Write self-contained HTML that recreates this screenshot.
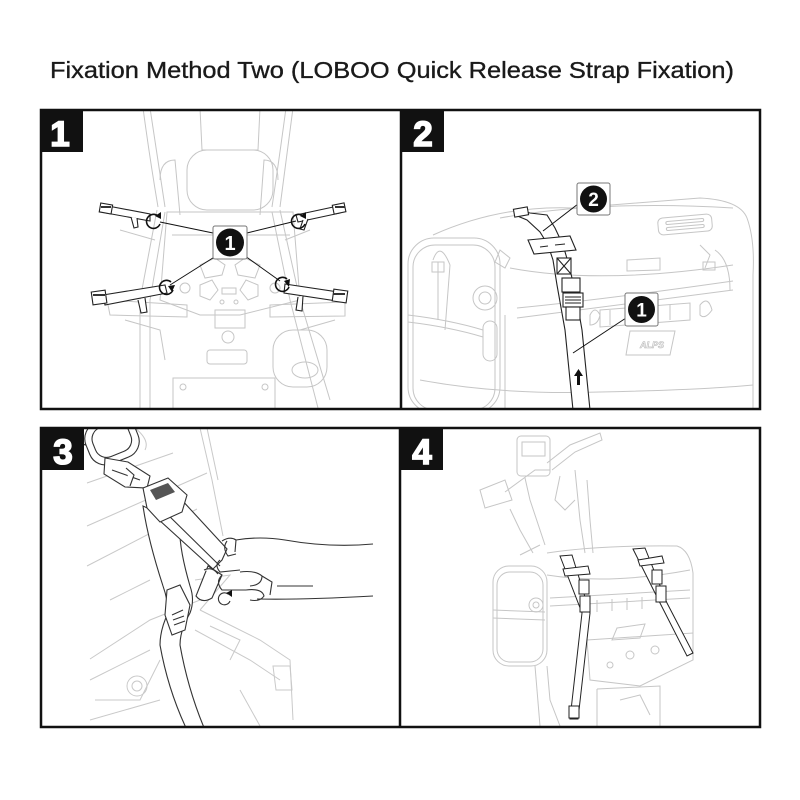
<!DOCTYPE html>
<html><head><meta charset="utf-8"><style>
html,body{margin:0;padding:0;background:#fff;}
svg{display:block;}
</style></head><body>
<svg width="800" height="800" viewBox="0 0 800 800" xmlns="http://www.w3.org/2000/svg">
<defs>
  <clipPath id="c1"><rect x="42" y="111" width="358" height="297"/></clipPath>
  <clipPath id="c2"><rect x="402" y="111" width="357" height="297"/></clipPath>
  <clipPath id="c3"><rect x="42" y="429" width="357" height="297"/></clipPath>
  <clipPath id="c4"><rect x="401" y="429" width="358" height="297"/></clipPath>
</defs>
<rect width="800" height="800" fill="#fff"/>
<text x="50" y="78" font-family="Liberation Sans, sans-serif" font-size="23" fill="#1a1a1a" stroke="#1a1a1a" stroke-width="0.35" textLength="684" lengthAdjust="spacingAndGlyphs">Fixation Method Two (LOBOO Quick Release Strap Fixation)</text>

<!-- ============ PANEL 1 ============ -->
<g clip-path="url(#c1)">
<g fill="none" stroke="#c6c6c6" stroke-width="1">
  <path d="M143 108 Q150 160 158 207"/>
  <path d="M150 108 Q158 160 165 207"/>
  <path d="M293 108 Q286 160 280 207"/>
  <path d="M286 108 Q279 160 272 207"/>
  <path d="M200 108 L202 150 L258 150 L260 108"/>
  <rect x="187" y="150" width="86" height="60" rx="20"/>
  <path d="M160 180 Q160 160 175 160 L180 215"/>
  <path d="M278 180 Q278 160 264 160 L260 215"/>
  <path d="M157 210 L140 300 L140 408"/>
  <path d="M165 212 L150 300 L150 408"/>
  <path d="M280 210 L300 300 L330 400"/>
  <path d="M272 212 L290 300 L318 408"/>
  <path d="M167 212 L293 212 L300 300 L240 315 L200 315 L160 300 Z"/>
  <path d="M172 235 L290 235"/>
  <path d="M200 265 L215 258 L225 265 L222 275 L205 278 Z"/>
  <path d="M260 265 L245 258 L235 265 L238 275 L255 278 Z"/>
  <path d="M200 285 L212 280 L218 290 L210 300 L200 296 Z"/>
  <path d="M258 285 L246 280 L240 290 L248 300 L258 296 Z"/>
  <circle cx="185" cy="288" r="5"/><circle cx="275" cy="288" r="5"/>
  <rect x="222" y="288" width="14" height="6"/>
  <circle cx="222" cy="302" r="2"/><circle cx="236" cy="302" r="2"/>
  <rect x="215" y="310" width="30" height="18"/>
  <path d="M107 300 L187 305 L187 317 L110 315 Z"/>
  <path d="M270 305 L345 302 L345 316 L270 317 Z"/>
  <circle cx="228" cy="337" r="6"/>
  <rect x="207" y="350" width="40" height="14" rx="3"/>
  <rect x="273" y="330" width="54" height="57" rx="20"/>
  <ellipse cx="305" cy="370" rx="13" ry="8"/>
  <rect x="173" y="378" width="102" height="32"/>
  <circle cx="183" cy="387" r="3"/><circle cx="265" cy="387" r="3"/>
  <path d="M120 230 L155 240"/><path d="M310 230 L285 240"/>
  <path d="M125 320 L160 330 L165 360"/><path d="M335 320 L300 330"/>
</g>
<g fill="#fff" stroke="#222" stroke-width="1.1">
  <path d="M108 206 L150 214 L150 221 L106 213 Z"/>
  <path d="M131 217 L134 228 L138 227 L137 218"/>
  <rect x="100" y="204" width="12" height="9" transform="rotate(10 106 208)"/>
  <path d="M296 215 L338 206 L340 213 L298 222 Z"/>
  <path d="M303 220 L300 229 L304 230 L308 219"/>
  <rect x="333" y="204" width="12" height="9" transform="rotate(-12 339 208)"/>
  <path d="M103 295 L165 285 L167 293 L105 305 Z"/>
  <path d="M138 300 L141 313 L147 312 L145 298"/>
  <rect x="92" y="291" width="14" height="13" transform="rotate(-8 99 297)"/>
  <path d="M285 284 L338 292 L337 301 L284 293 Z"/>
  <path d="M298 297 L296 310 L302 311 L303 296"/>
  <rect x="333" y="290" width="14" height="12" transform="rotate(8 340 296)"/>
</g>
<g fill="#333">
  <rect x="101" y="206" width="10" height="2"/><rect x="335" y="206" width="10" height="2"/>
  <rect x="93" y="294" width="12" height="2"/><rect x="333" y="293" width="12" height="2"/>
</g>
<g fill="none" stroke="#111" stroke-width="1.6">
  <path d="M158 216 A7 7 0 1 0 160 224"/>
  <path d="M303 216 A7 7 0 1 0 305 224"/>
  <path d="M171 282 A7 7 0 1 0 173 290"/>
  <path d="M287 279 A7 7 0 1 0 289 287"/>
</g>
<g fill="#111">
  <path d="M155 216 L161 212 L161 219 Z"/>
  <path d="M300 216 L306 212 L306 219 Z"/>
  <path d="M168 286 L175 285 L172 292 Z"/>
  <path d="M284 281 L290 279 L289 287 Z"/>
</g>
<g stroke="#111" stroke-width="1">
  <line x1="213" y1="233" x2="160" y2="222"/>
  <line x1="247" y1="233" x2="296" y2="221"/>
  <line x1="216" y1="256" x2="170" y2="285"/>
  <line x1="245" y1="256" x2="280" y2="281"/>
</g>
<rect x="213" y="226" width="34" height="33" rx="2" fill="#fff" stroke="#777" stroke-width="1"/>
<circle cx="230" cy="242.5" r="14" fill="#111"/>
<text x="230" y="250" text-anchor="middle" font-family="Liberation Sans, sans-serif" font-weight="bold" font-size="20" fill="#fff">1</text>
</g>

<!-- ============ PANEL 2 ============ -->
<g clip-path="url(#c2)">
<g fill="none" stroke="#c6c6c6" stroke-width="1">
  <path d="M433 235 Q500 205 573 208 L700 198 Q740 200 747 218 Q755 240 753 275 L753 408"/>
  <rect x="408" y="238" width="92" height="175" rx="26"/>
  <rect x="413" y="245" width="82" height="165" rx="22"/>
  <path d="M500 218 Q600 200 733 208"/>
  <path d="M510 268 Q600 285 733 265"/>
  <path d="M517 308 Q600 300 733 281"/>
  <path d="M517 318 L733 290"/>
  <path d="M505 315 L505 408"/>
  <circle cx="485" cy="298" r="12"/><circle cx="485" cy="298" r="6"/>
  <rect x="483" y="321" width="14" height="40" rx="7"/>
  <path d="M433 260 Q440 240 450 265 L445 330"/>
  <path d="M438 262 L438 320"/>
  <rect x="432" y="262" width="12" height="10"/>
  <path d="M408 315 Q450 320 483 330"/>
  <path d="M408 322 Q450 327 483 337"/>
  <path d="M500 250 L510 258 L505 268 L495 262 Z"/>
  <path d="M700 245 L710 255 L705 268"/>
  <rect x="703" y="262" width="12" height="8"/>
  <path d="M715 250 Q730 260 730 290"/>
  <path d="M630 331 L675 331 L670 355 L626 355 Z"/>
  <path d="M600 310 L690 303 L690 320 L600 327 Z"/>
  <path d="M610 310 L610 325 M625 309 L625 324 M640 308 L640 323 M655 306 L655 321 M670 305 L670 320"/>
  <path d="M590 315 Q595 305 600 315 Q598 325 590 325 Z"/>
  <path d="M700 305 Q708 295 712 310 Q705 320 700 315 Z"/>
  <path d="M627 260 L660 258 L660 270 L627 271 Z"/>
  <g transform="rotate(-5 685 224)">
    <rect x="658" y="216" width="54" height="17" rx="5"/>
    <rect x="666" y="220" width="38" height="3" rx="1.5"/>
    <rect x="666" y="226" width="38" height="3" rx="1.5"/>
  </g>
  <path d="M420 380 Q500 395 600 392 Q700 390 753 385"/>
</g>
<text x="652" y="348" text-anchor="middle" font-family="Liberation Sans, sans-serif" font-weight="bold" font-style="italic" font-size="9" fill="none" stroke="#b9b9b9" stroke-width="0.6">ALPS</text>
<g fill="#fff" stroke="#222" stroke-width="1.1">
  <path d="M573 410 L565 330 L557 285 L553 260 L548 245 L540 232 L527 220 L515 215 L518 210 L530 213 L547 215 L555 228 L563 245 L568 262 L575 290 L582 330 L590 410 Z"/>
  <path d="M528 240 L570 236 L576 250 L534 254 Z"/>
  <path d="M540 247 L548 246 M555 245 L565 244"/>
  <rect x="557" y="258" width="14" height="16"/>
  <path d="M557 258 L571 274 M571 258 L557 274"/>
  <rect x="562" y="278" width="18" height="14"/>
  <rect x="563" y="293" width="20" height="14"/>
  <path d="M565 297 L581 297 M565 300 L581 300 M565 303 L581 303"/>
  <rect x="566" y="307" width="14" height="13"/>
  <rect x="514" y="208" width="14" height="8" transform="rotate(-10 521 212)"/>
</g>
<g stroke="#111" stroke-width="1">
  <line x1="578" y1="204" x2="543" y2="231"/>
  <line x1="626" y1="318" x2="573" y2="353"/>
</g>
<path d="M577 385 L577 376 L574 376 L578.5 369 L583 376 L580 376 L580 385 Z" fill="#111"/>
<rect x="577" y="183" width="33" height="32" rx="2" fill="#fff" stroke="#777"/>
<circle cx="593.5" cy="199" r="13.5" fill="#111"/>
<text x="593.5" y="206" text-anchor="middle" font-family="Liberation Sans, sans-serif" font-weight="bold" font-size="19" fill="#fff">2</text>
<rect x="625" y="293" width="33" height="33" rx="2" fill="#fff" stroke="#777"/>
<circle cx="641.5" cy="309.5" r="13.5" fill="#111"/>
<text x="641.5" y="316.5" text-anchor="middle" font-family="Liberation Sans, sans-serif" font-weight="bold" font-size="19" fill="#fff">1</text>
</g>

<!-- ============ PANEL 3 ============ -->
<g clip-path="url(#c3)">
<g fill="none" stroke="#c9c9c9" stroke-width="1">
  <path d="M87 483 L173 453"/>
  <path d="M87 526 L207 473"/>
  <path d="M87 566 L197 509"/>
  <path d="M200 428 L212 480 L223 536"/>
  <path d="M207 428 L218 480"/>
  <path d="M135 428 Q150 440 145 450"/>
  <path d="M90 659 L150 620 L200 600"/>
  <path d="M90 680 L150 650"/>
  <path d="M95 700 L140 700 L160 660"/>
  <circle cx="137" cy="686" r="10"/><circle cx="137" cy="686" r="5"/>
  <path d="M200 610 L260 640 L290 660 L293 720"/>
  <path d="M195 630 L250 660 L280 680"/>
  <path d="M273 666 L290 666 L292 690 L276 690 Z"/>
  <path d="M210 626 L240 640 L230 660"/>
  <path d="M90 720 L160 700"/>
  <path d="M240 690 L260 726"/>
  <path d="M110 600 L150 580"/>
  <path d="M195 580 L230 575 L200 610"/>
</g>
<g fill="#fff" stroke="#333" stroke-width="1.1">
  <path d="M60 405 L95 430 L85 445 L50 420 Z"/>
  <rect x="86" y="418" width="52" height="44" rx="17" transform="rotate(-22 112 440)"/>
  <rect x="93" y="424" width="38" height="31" rx="12" transform="rotate(-22 112 440)"/>
  <path d="M105 458 L128 462 L150 476 L147 488 L125 487 L104 474 Z"/>
  <path d="M112 470 L140 480"/>
  <path d="M126 468 L134 475 L130 486"/>
</g>
<g fill="#fff" stroke="#333" stroke-width="1.1">
  <path d="M143 506 Q148 540 163 586 Q168 600 168 613 Q160 630 160 645 Q168 690 187 730 L205 730 Q188 690 180 645 Q180 630 190 613 Q195 600 190 586 Q178 545 180 523 Z"/>
  <path d="M180 498 L227 549 L222 560 L213 569 L158 519 Z"/>
  <path d="M162 509 L220 566"/>
  <path d="M143 488 L168 478 L187 495 L182 512 L160 522 L147 508 Z"/>
  <path d="M167 590 L180 585 L190 605 L185 630 L172 635 L165 615 Z"/>
  <path d="M172 615 L183 610 M173 620 L184 616 M174 625 L185 621"/>
  <path d="M208 566 L222 575 L212 598 Q202 604 196 596 Z"/>
  <path d="M204 570 Q212 566 218 574"/>
</g>
<path d="M150 490 L168 483 L175 492 L156 500 Z" fill="#555"/>
<g fill="none" stroke="#333" stroke-width="1.1">
  <path d="M227 541 Q222 548 228 556 L236 554"/>
  <path d="M222 541 Q230 536 236 540 L235 552"/>
  <path d="M220 560 Q214 565 220 572 L240 570"/>
  <path d="M222 575 Q215 582 222 590 L246 590"/>
  <path d="M236 540 Q260 536 285 540 Q330 548 373 544"/>
  <path d="M240 572 Q255 570 262 576 Q262 585 250 586"/>
  <path d="M246 590 Q262 588 264 596 Q260 602 250 600"/>
  <path d="M257 599 Q300 600 373 596"/>
  <path d="M277 586 L313 586"/>
  <path d="M262 576 L272 582 L270 595"/>
  <path d="M228 594 A6 6 0 1 0 230 601"/>
</g>
<path d="M226 593 L232 590 L232 597 Z" fill="#111"/>
</g>

<!-- ============ PANEL 4 ============ -->
<g clip-path="url(#c4)">
<g fill="none" stroke="#c6c6c6" stroke-width="1">
  <path d="M480 490 L505 480 L512 500 L485 508 Z"/>
  <path d="M505 492 L535 470 L550 470"/>
  <path d="M547 463 L570 445 L600 433 L602 440 L575 452 L552 470"/>
  <rect x="517" y="436" width="33" height="40" rx="4"/>
  <rect x="522" y="442" width="23" height="14"/>
  <path d="M510 509 L520 530 L533 553"/>
  <path d="M525 478 L530 500 L545 545"/>
  <path d="M587 480 L590 520 L593 553"/>
  <path d="M575 470 L580 520 L585 553"/>
  <path d="M560 476 L555 500 L565 510 L575 500"/>
  <path d="M547 553 Q600 545 677 546 Q690 550 693 573 L693 656"/>
  <rect x="493" y="566" width="54" height="100" rx="16"/>
  <rect x="497" y="572" width="46" height="90" rx="13"/>
  <path d="M547 575 Q610 585 690 570"/>
  <path d="M550 598 L690 590"/>
  <path d="M550 606 L690 598"/>
  <path d="M597 600 L597 612 M612 599 L612 611 M627 598 L627 610 M642 597 L642 609"/>
  <circle cx="536" cy="605" r="7"/><circle cx="536" cy="605" r="3"/>
  <path d="M493 610 L545 612 M493 618 L545 620"/>
  <path d="M617 628 L645 624 L640 638 L612 640 Z"/>
  <path d="M587 640 L693 633 L693 660 L640 686 L590 680 Z"/>
  <circle cx="630" cy="655" r="4"/><circle cx="655" cy="650" r="4"/><circle cx="610" cy="665" r="3"/>
  <path d="M597 689 L660 686 L660 726"/>
  <path d="M597 689 L597 726"/>
  <path d="M547 666 L550 700 L560 726"/>
  <path d="M535 666 L540 726"/>
  <path d="M620 700 L640 695 L650 715"/>
  <path d="M520 555 L540 545"/>
</g>
<g fill="#fff" stroke="#222" stroke-width="1">
  <path d="M560 556 L572 555 L590 613 L578 719 L570 719 L582 613 Z"/>
  <path d="M563 569 L588 566 L590 574 L565 576 Z"/>
  <rect x="579" y="580" width="10" height="14"/>
  <rect x="580" y="596" width="10" height="16"/>
  <rect x="569" y="706" width="10" height="12"/>
  <path d="M633 549 L645 548 L667 603 L693 653 L687 656 L660 603 Z"/>
  <path d="M638 560 L662 556 L664 563 L640 566 Z"/>
  <rect x="652" y="570" width="10" height="14"/>
  <rect x="656" y="586" width="10" height="16"/>
</g>
</g>

<!-- ============ FRAMES ============ -->
<g fill="none" stroke="#111" stroke-width="2.5">
  <rect x="41" y="110" width="719" height="299"/>
  <line x1="401" y1="110" x2="401" y2="409"/>
  <rect x="41" y="428" width="719" height="299"/>
  <line x1="400" y1="428" x2="400" y2="727"/>
</g>
<g fill="#111">
  <rect x="41" y="110" width="42" height="42"/>
  <rect x="401" y="110" width="43" height="42"/>
  <rect x="41" y="428" width="43" height="42"/>
  <rect x="400" y="428" width="43" height="42"/>
</g>
<g font-family="Liberation Sans, sans-serif" font-weight="bold" font-size="35" fill="#fff" text-anchor="middle" stroke="#fff" stroke-width="1.6">
  <text x="60" y="146">1</text>
  <text x="423" y="146">2</text>
  <text x="63" y="464">3</text>
  <text x="422" y="464">4</text>
</g>
</svg>
</body></html>
